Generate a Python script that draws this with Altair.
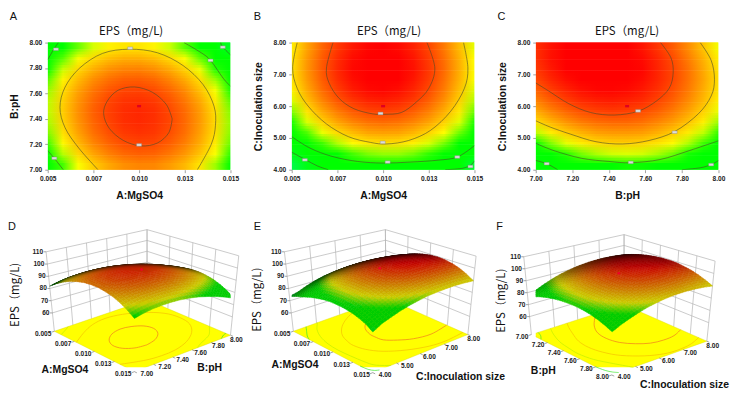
import altair as alt

# ---------- values ----------
# response (EPS, mg/L), rows from top of the plot to bottom, 13 columns left to right
AB_GRID = [
 [80.2,84.0,87.0,89.2,90.7,91.4,91.4,90.6,89.0,86.7,83.6,79.7,75.1],
 [82.9,86.7,89.8,92.1,93.6,94.4,94.4,93.7,92.1,89.9,86.9,83.0,78.5],
 [85.1,88.9,92.1,94.4,96.0,96.8,96.9,96.2,94.7,92.5,89.6,85.7,81.3],
 [86.7,90.6,93.8,96.3,97.9,98.8,98.9,98.3,96.8,94.7,91.8,88.0,83.6],
 [87.9,91.9,95.1,97.6,99.3,100.2,100.4,99.9,98.4,96.4,93.5,89.8,85.5],
 [88.6,92.6,95.9,98.4,100.2,101.2,101.4,100.9,99.5,97.5,94.8,91.1,86.8],
 [88.7,92.8,96.2,98.8,100.5,101.6,101.9,101.5,100.1,98.2,95.5,91.9,87.6],
 [88.3,92.5,95.9,98.5,100.3,101.5,101.8,101.4,100.2,98.3,95.6,92.1,87.9],
 [87.5,91.7,95.2,97.9,99.7,100.9,101.3,101.0,99.8,98.0,95.3,91.8,87.7],
 [86.2,90.4,93.9,96.7,98.6,99.9,100.3,100.1,98.9,97.1,94.6,91.1,87.1],
 [84.3,88.6,92.2,95.0,97.0,98.3,98.8,98.6,97.5,95.8,93.3,89.9,85.9],
 [81.9,86.3,89.9,92.8,94.8,96.2,96.7,96.6,95.5,93.9,91.4,88.1,84.1],
]
AC_GRID = [
 [90.9,95.0,98.4,100.9,102.7,103.7,104.0,103.5,102.2,100.2,97.4,93.8,89.5],
 [91.5,95.6,99.0,101.6,103.4,104.4,104.7,104.2,102.9,100.8,98.0,94.4,90.0],
 [91.6,95.8,99.2,101.8,103.6,104.6,104.9,104.4,103.1,101.0,98.2,94.5,90.2],
 [91.4,95.5,98.9,101.5,103.3,104.3,104.6,104.1,102.8,100.7,97.9,94.3,89.9],
 [90.6,94.7,98.1,100.6,102.5,103.5,103.8,103.3,102.0,100.0,97.2,93.6,89.3],
 [89.3,93.4,96.7,99.3,101.0,102.1,102.4,101.9,100.8,98.8,96.1,92.6,88.5],
 [87.5,91.5,94.8,97.3,99.1,100.1,100.5,100.1,98.9,97.1,94.5,91.2,87.1],
 [85.4,89.3,92.5,95.0,96.8,97.8,98.2,97.8,96.8,95.1,92.6,89.4,85.5],
 [82.7,86.5,89.6,92.1,93.8,95.0,95.3,95.1,94.1,92.4,90.1,87.2,83.5],
 [79.5,83.2,86.2,88.5,90.3,91.4,91.8,91.7,90.8,89.3,87.3,84.5,81.0],
 [75.9,79.4,82.3,84.6,86.3,87.4,87.9,87.9,87.2,85.9,84.0,81.5,78.4],
 [73.5,76.0,78.0,80.2,81.8,83.0,83.6,83.5,83.0,82.0,80.3,78.1,74.5],
]
BC_GRID = [
 [101.4,103.0,104.2,104.8,105.0,104.7,104.0,102.9,101.1,99.0,96.4,93.3,89.8],
 [101.4,103.1,104.4,105.1,105.4,105.2,104.5,103.5,101.9,99.9,97.3,94.3,90.9],
 [100.9,102.7,104.1,104.9,105.3,105.2,104.6,103.7,102.1,100.2,97.8,94.8,91.5],
 [100.0,101.9,103.3,104.3,104.8,104.7,104.3,103.4,102.0,100.2,97.8,95.0,91.7],
 [98.6,100.6,102.1,103.2,103.7,103.8,103.5,102.7,101.4,99.6,97.4,94.6,91.5],
 [96.8,98.9,100.5,101.7,102.3,102.5,102.2,101.6,100.3,98.7,96.5,93.9,90.8],
 [94.5,96.7,98.4,99.7,100.4,100.7,100.5,99.9,98.8,97.2,95.2,92.6,89.6],
 [91.9,94.1,95.9,97.3,98.1,98.4,98.4,97.9,96.8,95.4,93.4,90.9,88.1],
 [88.7,91.0,92.9,94.3,95.3,95.7,95.7,95.4,94.4,93.0,91.1,88.8,86.0],
 [85.1,87.5,89.5,91.0,92.1,92.6,92.7,92.4,91.5,90.3,88.5,86.2,83.5],
 [81.1,83.6,85.7,87.3,88.4,89.1,89.3,89.1,88.3,87.1,85.4,83.3,80.7],
 [76.6,79.2,81.4,83.1,84.3,85.0,85.3,85.2,84.6,83.5,81.9,79.8,77.3],
]
# contour lines (level index, [(x, y), ...]) in axis units
AB_CONTOURS = [
 (0, [(.01181,7.40),(.01148,7.515),(.01072,7.61),(.00975,7.651),(.00885,7.625),(.00826,7.54),(.00806,7.44),(.00837,7.325),(.00914,7.23),(.0101,7.187),(.0110,7.21),(.01162,7.29),(.01181,7.40)]),
 (1, [(.00775,7),(.0067,7.17),(.00595,7.33),(.00567,7.49),(.00595,7.65),(.00675,7.8),(.008,7.915),(.00947,7.948),(.011,7.92),(.0124,7.82),(.0135,7.67),(.0141,7.5),(.01418,7.35),(.01395,7.2),(.01319,7)]),
 (2, [(.005,7.865),(.0053,7.94),(.00558,8.0)]),
 (2, [(.005,7.15),(.00536,7.09),(.00585,7.0)]),
 (2, [(.01246,8),(.0134,7.92),(.01391,7.86),(.0146,7.72),(.015,7.657)]),
 (3, [(.01446,8),(.01458,7.964),(.015,7.904)]),
]
AC_CONTOURS = [
 (0, [(.00726,8),(.0069,7.2),(.00705,6.72),(.0076,6.24),(.0084,5.92),(.0094,5.76),(.0101,5.744),(.011,5.8),(.0118,6.12),(.0125,6.56),(.01283,7.2),(.0124,8)]),
 (1, [(.0053,8),(.00505,7.2),(.0053,6.56),(.0059,6.0),(.0069,5.44),(.0081,5.04),(.0093,4.86),(.0102,4.81),(.0114,4.92),(.0126,5.24),(.0137,5.84),(.01445,6.56),(.01464,7.2),(.0144,8)]),
 (2, [(.005,5.04),(.006,4.68),(.0072,4.42),(.0086,4.26),(.01,4.21),(.0115,4.24),(.013,4.30),(.01407,4.40),(.015,4.76)]),
 (3, [(.005,4.55),(.00574,4.32),(.0064,4.12),(.007,4.0)]),
 (3, [(.0134,4.0),(.0143,4.04),(.01478,4.14),(.015,4.28)]),
]
BC_CONTOURS = [
 (0, [(7.683,8),(7.74,7.52),(7.752,7.04),(7.73,6.56),(7.66,6.16),(7.56,5.84),(7.43,5.72),(7.3,5.8),(7.18,6.08),(7.07,6.48),(7,6.73)]),
 (1, [(7.9,8),(7.96,7.44),(7.978,6.84),(7.96,6.32),(7.89,5.76),(7.76,5.2),(7.62,4.92),(7.475,4.81),(7.33,4.88),(7.19,5.12),(7.08,5.34),(7,5.54)]),
 (2, [(7,4.83),(7.1,4.6),(7.25,4.36),(7.4,4.26),(7.52,4.22),(7.68,4.32),(7.84,4.6),(8,4.91)]),
 (3, [(7,4.29),(7.06,4.19),(7.12,4.0)]),
 (3, [(7.8,4.0),(7.9,4.06),(7.96,4.16),(8,4.29)]),
]
AB_LABELS = [(.00545,7.948),(.00951,7.956),(.01391,7.86),(.01458,7.964),(.00536,7.09),(.01,7.195)]
AC_LABELS = [(.00572,4.31),(.01025,4.24),(.01406,4.4),(.01478,4.10),(.00998,4.86),(.00986,5.77)]
BC_LABELS = [(7.06,4.19),(7.52,4.23),(7.96,4.16),(7.76,5.18),(7.56,5.85)]
DESIGN_POINTS = [(.01,7.5,100.5),(.01,6.0,101.5),(7.5,6.0,101.5)]

MG_TICKS = [.005,.0075,.01,.0125,.015]
MG_LABELS = ["0.005","0.007","0.010","0.013","0.015"]
PH_TICKS = [7,7.2,7.4,7.6,7.8,8]
PH_LABELS = ["7.00","7.20","7.40","7.60","7.80","8.00"]
IN_TICKS = [4,5,6,7,8]
IN_LABELS = ["4.00","5.00","6.00","7.00","8.00"]
Z_TICKS = [60,70,80,90,100,110]

TITLE = "EPS（mg/L)"

# ---------- styles and layout ----------
SANS = "Liberation Sans"
CJK = "Noto Sans CJK SC"
RAMP = [(70,(0,215,170)),(74,(0,255,60)),(77,(0,255,0)),(85,(0,255,0)),(90,(255,255,0)),(97,(255,128,0)),(104,(255,0,0))]
FLOOR_LINE = ["#f07a1e","#f5c000","#c0ee00","#3ce628"]
PW, PH, H3 = 184, 128, 190
COL_X = [46, 291.7, 537.4]
ROW3_Y = 178
Z0 = 45.0
SHADE = [(-.375,1),(-.125,.5),(.125,1/3),(.375,.25)]
SUB = 3
BACK_DROP = 11  # pixels: the far corner of the surface sits lower on screen than a plain bilinear view gives

CORNERS = {  # page pixels (3x crop units): L, F, R, Back on the floor and at z = 110
 "D": dict(off=(0,200), floor=[(158,395),(400,517),(690,407),(438,300)], top=[(133,155),(400,250),(715,167),(438,88)]),
 "E": dict(off=(245,200), floor=[(145,395),(385,520),(672,405),(425,295)], top=[(118,155),(385,250),(697,168),(423,88)]),
 "F": dict(off=(488,200), floor=[(135,405),(378,527),(665,425),(415,315)], top=[(112,170),(380,265),(690,183),(415,103)]),
}


def ramp(z):
    if z <= RAMP[0][0]:
        return RAMP[0][1]
    for (a, ca), (b, cb) in zip(RAMP, RAMP[1:]):
        if z <= b:
            t = (z - a) / (b - a)
            return tuple(ca[k] + (cb[k] - ca[k]) * t for k in range(3))
    return RAMP[-1][1]


def hexc(c, f=1.0):
    return "#%02x%02x%02x" % tuple(max(0, min(255, int(round(v * f)))) for v in c)


def grad(colors):
    n = len(colors) - 1
    return {"gradient": "linear", "x1": 0, "y1": 0, "x2": 1, "y2": 0,
            "stops": [{"offset": i / n, "color": c} for i, c in enumerate(colors)]}


def contour_panel(grid, contours, labels, dot, xr, yr, xticks, xlabels, yticks, ylabels, xtitle, ytitle, letter, tcx):
    nr = len(grid)
    step = (yr[1] - yr[0]) / nr
    xs = alt.Scale(domain=list(xr), nice=False, zero=False)
    ys = alt.Scale(domain=list(yr), nice=False, zero=False)
    xexpr = "{" + ",".join(f"'{v}':'{l}'" for v, l in zip(xticks, xlabels)) + "}[''+datum.value]"
    yexpr = "{" + ",".join(f"'{v}':'{l}'" for v, l in zip(yticks, ylabels)) + "}[''+datum.value]"
    ax = dict(grid=False, domain=False, tickColor="#777777", tickSize=3, tickWidth=.7, labelFont=SANS, labelFontSize=6.6,
              labelFontWeight="bold", labelColor="#1a1a1a", titleFont=SANS, titleFontSize=10.5, titleFontWeight="bold",
              titleColor="#111111", labelPadding=3, labelFlush=False, labelOverlap=False)
    xa = alt.Axis(values=xticks, labelExpr=xexpr, title=xtitle, titlePadding=8.5, **ax)
    ya = alt.Axis(values=yticks, labelExpr=yexpr, title=ytitle, titlePadding=9.5, **ax)
    X = lambda f: alt.X(f, scale=xs, axis=xa)
    Y = lambda f: alt.Y(f, scale=ys, axis=ya)
    layers = []
    for n, (shift, op) in enumerate(SHADE):
        rows = []
        for k, r in enumerate(grid):
            top = yr[1] - (k + shift) * step
            bot = top - step
            if k == 0:
                top = yr[1] + step
            if k == nr - 1:
                bot = yr[0] - step
            rows.append({"y0": top, "y1": bot, "g": grad([hexc(ramp(z)) for z in r])})
        layers.append(alt.Chart(alt.Data(values=rows)).mark_rect(opacity=op, clip=True).encode(
            x=X("x0:Q"), x2="x1:Q", y=Y("y0:Q"), y2="y1:Q",
            fill=alt.Fill("g:N", scale=None, legend=None)
        ).transform_calculate(x0=str(xr[0]), x1=str(xr[1])))
    pts = []
    for cid, (lev, line) in enumerate(contours):
        for i, (x, y) in enumerate(line):
            pts.append({"x": x, "y": y, "id": cid, "i": i})
    lines = alt.Chart(alt.Data(values=pts)).mark_line(color="#4a4a28", strokeWidth=.6, interpolate="cardinal", clip=True).encode(
        x=X("x:Q"), y=Y("y:Q"), detail="id:N", order="i:Q")
    boxes = alt.Chart(alt.Data(values=[{"x": a, "y": b} for a, b in labels])).mark_rect(
        width=5, height=2.6, fill="#dcdcdc", stroke="#8c8c8c", strokeWidth=.4).encode(x=X("x:Q"), y=Y("y:Q"))
    red = alt.Chart(alt.Data(values=[{"x": dot[0], "y": dot[1]}])).mark_rect(
        width=4, height=2.4, fill="#e00020").encode(x=X("x:Q"), y=Y("y:Q"))
    let = alt.Chart(alt.Data(values=[{"t": letter}])).mark_text(font=SANS, fontSize=11, align="center", baseline="middle", color="#111111").encode(
        x=alt.value(-34.5), y=alt.value(-26), text="t:N")
    ttl = alt.Chart(alt.Data(values=[{"t": TITLE}])).mark_text(font=CJK, fontSize=11.5, align="center", baseline="middle", color="#111111").encode(
        x=alt.value(tcx), y=alt.value(-11), text="t:N")
    return alt.layer(*layers, lines, boxes, red, let, ttl).properties(width=PW, height=PH)


def surface_panel(key, col, grid, contours, dot, xr, yr, uticks, ulabels, vticks, vlabels, utitle, vtitle, ypos):
    c = CORNERS[key]
    ox, oy = COL_X[col], ROW3_Y
    off = c["off"]

    def page(p):
        return (p[0] / 3 + off[0] - ox, p[1] / 3 + off[1] - oy)
    fl = [page(p) for p in c["floor"]]
    tp = [page(p) for p in c["top"]]

    def bil(q, u, v):
        return tuple((1-u)*(1-v)*q[0][k] + u*(1-v)*q[1][k] + u*v*q[2][k] + (1-u)*v*q[3][k] for k in range(2))

    def proj(u, v, z=Z0):
        w = (z - Z0) / (110 - Z0)
        a, b = bil(fl, u, v), bil(tp, u, v)
        return (a[0] + (b[0]-a[0])*w, a[1] + (b[1]-a[1])*w)

    def proj_surface(u, v, z):
        p = proj(u, v, z)
        return (p[0], p[1] + BACK_DROP * (1-u) * v)

    def ufrac(x):
        return (x - xr[0]) / (xr[1] - xr[0])

    def vfrac(y):
        return (y - yr[0]) / (yr[1] - yr[0])

    ux = alt.X("px:Q", scale=alt.Scale(domain=[0, PW], nice=False, zero=False), axis=None)
    uy = alt.Y("py:Q", scale=alt.Scale(domain=[H3, 0], nice=False, zero=False), axis=None)

    def line_layer(rows, color, width):
        return alt.Chart(alt.Data(values=rows)).mark_line(color=color, strokeWidth=width).encode(x=ux, y=uy, detail="id:N", order="i:Q")

    def seg(rows, ident, pts):
        for i, p in enumerate(pts):
            rows.append({"px": p[0], "py": p[1], "id": ident, "i": i})

    def text_layer(rows, **kw):
        return alt.Chart(alt.Data(values=rows)).mark_text(**kw).encode(x=ux, y=uy, text="t:N")

    # walls
    wall = []
    n = 0
    for v in [vfrac(t) for t in vticks]:
        seg(wall, n, [proj(0, v), proj(0, v, 110)]); n += 1
    for u in [ufrac(t) for t in uticks]:
        seg(wall, n, [proj(u, 1), proj(u, 1, 110)]); n += 1
    for z in Z_TICKS:
        seg(wall, n, [proj(0, 0, z), proj(0, 1, z), proj(1, 1, z)]); n += 1
    layers = [line_layer(wall, "#b4b4b4", .7)]

    # floor
    ring = [list(bil(fl, u, v)) for u, v in [(0,0),(1,0),(1,1),(0,1),(0,0)]]
    floor_feat = {"type": "Feature", "geometry": {"type": "Polygon", "coordinates": [ring]}}
    layers.append(alt.Chart(alt.Data(values=[floor_feat])).mark_geoshape(fill="#ffff00", stroke="#d8d800", strokeWidth=.4).project(type="identity", scale=1, translate=[0, 0]))
    for lev in range(4):
        rows = []
        for cid, (l, line) in enumerate(contours):
            if l == lev:
                seg(rows, cid, [proj(ufrac(x), vfrac(y)) for x, y in line])
        layers.append(alt.Chart(alt.Data(values=rows)).mark_line(color=FLOOR_LINE[lev], strokeWidth=.7, interpolate="cardinal").encode(x=ux, y=uy, detail="id:N", order="i:Q"))

    # ticks
    tk = []
    n = 0
    for t in uticks:
        u = ufrac(t)
        seg(tk, n, [proj(u, 0), proj(u, -.03)]); n += 1
    for t in vticks:
        v = vfrac(t)
        seg(tk, n, [proj(1, v), proj(1.03, v)]); n += 1
    for z in Z_TICKS:
        p = proj(0, 0, z)
        seg(tk, n, [p, (p[0] - 2.5, p[1])]); n += 1
    layers.append(line_layer(tk, "#666666", .6))

    # surface: grid rows run from high y to low y, columns from low x to high x
    nr, nc = len(grid), len(grid[0])

    def node(i, r):
        return proj_surface(i / (nc - 1), 1 - r / (nr - 1), grid[r][i])
    areas = {}
    for r in range(nr - 1):
        for i in range(nc - 1):
            q = [node(i, r+1), node(i+1, r+1), node(i+1, r), node(i, r)]
            a = 0
            for k in range(4):
                a += q[k][0]*q[(k+1) % 4][1] - q[(k+1) % 4][0]*q[k][1]
            areas[(r, i)] = abs(a) / 2
    med = sorted(areas.values())[len(areas)//2]

    # brightness at the nodes: the mesh of the original darkens where the surface is seen at a grazing angle
    def node_f(i, r):
        vals = [min(.8, .08 + .76 * areas[(rr, ii)] / med)
                for rr in (r-1, r) for ii in (i-1, i) if (rr, ii) in areas]
        return sum(vals) / len(vals)

    def blend(vals, s, t):
        return (1-s)*(1-t)*vals[0] + s*(1-t)*vals[1] + s*t*vals[2] + (1-s)*t*vals[3]

    feats = []
    # painted from the far corner to the near one; each mesh cell is drawn as SUB x SUB small flat facets
    for r in range(nr - 1):
        for i in range(nc - 1):
            corner = [(i, r), (i+1, r), (i+1, r+1), (i, r+1)]
            pts = [node(a, b) for a, b in corner]
            zs = [grid[b][a] for a, b in corner]
            fs = [node_f(a, b) for a, b in corner]
            for sr in range(SUB):
                for si in range(SUB):
                    s0, s1, t0, t1 = si/SUB, (si+1)/SUB, sr/SUB, (sr+1)/SUB
                    ringq = []
                    for s, t in [(s0,t0),(s1,t0),(s1,t1),(s0,t1),(s0,t0)]:
                        ringq.append([blend([p[0] for p in pts], s, t), blend([p[1] for p in pts], s, t)])
                    sm, tm = (s0+s1)/2, (t0+t1)/2
                    col = hexc(ramp(blend(zs, sm, tm)), blend(fs, sm, tm))
                    feats.append({"type": "Feature", "geometry": {"type": "Polygon", "coordinates": [ringq]}, "g": col})
    layers.append(alt.Chart(alt.Data(values=feats)).mark_geoshape(strokeWidth=.5).encode(
        fill=alt.Fill("g:N", scale=None, legend=None), stroke=alt.Stroke("g:N", scale=None, legend=None)
    ).project(type="identity", scale=1, translate=[0, 0]))

    # design point
    p = proj_surface(ufrac(dot[0]), vfrac(dot[1]), dot[2])
    layers.append(alt.Chart(alt.Data(values=[{"px": p[0], "py": p[1]}])).mark_point(filled=True, size=7, color="#f0002a", opacity=1).encode(x=ux, y=uy))

    # tick labels
    lab = dict(font=SANS, fontSize=6.6, fontWeight="bold", color="#1a1a1a", baseline="middle")
    rows = []
    for t, s in zip(uticks, ulabels):
        q = proj(ufrac(t), 0)
        rows.append({"px": q[0] - 3, "py": q[1] + 2.5, "t": s})
    layers.append(text_layer(rows, align="right", **lab))
    rows = []
    for t, s in zip(vticks, vlabels):
        v = vfrac(t)
        q = proj(1, v)
        rows.append({"px": q[0] + 6 - 6.5*v, "py": q[1] + 2 + 2.5*v, "t": s})
    layers.append(text_layer(rows, align="left", **lab))
    rows = []
    for z in Z_TICKS:
        q = proj(0, 0, z)
        rows.append({"px": q[0] - 3, "py": q[1], "t": str(z)})
    layers.append(text_layer(rows, align="right", **lab))

    # titles, letter
    big = dict(font=SANS, fontSize=10.5, fontWeight="bold", color="#111111", baseline="middle")
    u_pt, v_pt, y_pt, l_pt = ypos
    layers.append(text_layer([{"px": u_pt[0]-ox, "py": u_pt[1]-oy, "t": utitle}], align="center", **big))
    layers.append(text_layer([{"px": v_pt[0]-ox, "py": v_pt[1]-oy, "t": vtitle}], align=v_pt[2], **big))
    layers.append(text_layer([{"px": y_pt[0]-ox, "py": y_pt[1]-oy, "t": TITLE}], align="center", angle=270, font=CJK, fontSize=11.5, color="#111111", baseline="middle"))
    layers.append(text_layer([{"px": l_pt[0]-ox, "py": l_pt[1]-oy, "t": key}], align="center", font=SANS, fontSize=11, color="#111111", baseline="middle"))
    return alt.layer(*layers).properties(width=PW, height=H3)


A = contour_panel(AB_GRID, AB_CONTOURS, AB_LABELS, DESIGN_POINTS[0][:2], (.005,.015), (7,8), MG_TICKS, MG_LABELS, PH_TICKS, PH_LABELS, "A:MgSO4", "B:pH", "A", 84)
B = contour_panel(AC_GRID, AC_CONTOURS, AC_LABELS, DESIGN_POINTS[1][:2], (.005,.015), (4,8), MG_TICKS, MG_LABELS, IN_TICKS, IN_LABELS, "A:MgSO4", "C:Inoculation size", "B", 98)
C = contour_panel(BC_GRID, BC_CONTOURS, BC_LABELS, DESIGN_POINTS[2][:2], (7,8), (4,8), PH_TICKS, PH_LABELS, IN_TICKS, IN_LABELS, "B:pH", "C:Inoculation size", "C", 92)

D = surface_panel("D", 0, AB_GRID, AB_CONTOURS, DESIGN_POINTS[0], (.005,.015), (7,8), MG_TICKS, MG_LABELS, PH_TICKS, PH_LABELS,
                  "A:MgSO4", "B:pH", ((63.3,370.7),(209,369,"center"),(14.5,295),(10,227)))
E = surface_panel("E", 1, AC_GRID, AC_CONTOURS, DESIGN_POINTS[1], (.005,.015), (4,8), MG_TICKS, MG_LABELS, IN_TICKS, IN_LABELS,
                  "A:MgSO4", "C:Inoculation size", ((295,366),(416.7,377.7,"left"),(257.3,300),(257,227)))
F = surface_panel("F", 2, BC_GRID, BC_CONTOURS, DESIGN_POINTS[2], (7,8), (4,8), PH_TICKS, PH_LABELS, IN_TICKS, IN_LABELS,
                  "B:pH", "C:Inoculation size", ((545,371.7),(642.3,385.7,"left"),(503,301),(501,227)))

chart = alt.concat(A, B, C, D, E, F, columns=3, spacing={"row": 9, "column": 61.7}, bounds="flush").properties(
    padding={"left": 0, "top": 1.5, "right": 0, "bottom": 0}).configure_view(stroke=None)
chart.save("out.html", embed_options={"renderer": "svg", "actions": False})
